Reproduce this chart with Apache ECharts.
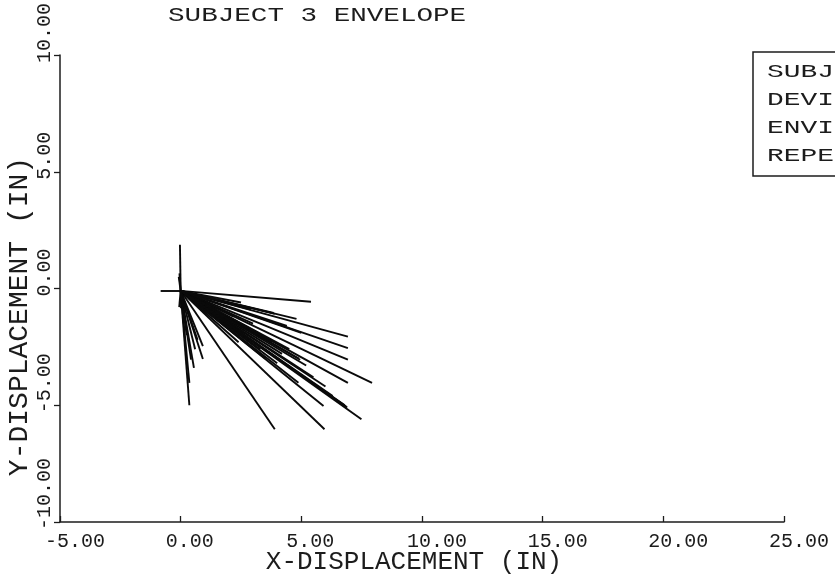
<!DOCTYPE html>
<html><head><meta charset="utf-8">
<script src="https://cdn.jsdelivr.net/npm/echarts@6/dist/echarts.min.js"></script>
<style>html,body{margin:0;padding:0;background:#fff}#c{width:835px;height:577px}</style>
</head><body><div id="c"></div>
<script>
// ---- data ----
const titleText = 'SUBJECT 3 ENVELOPE';
const xAxisName = 'X-DISPLACEMENT (IN)';
const yAxisName = 'Y-DISPLACEMENT (IN)';
const boxLines = ['SUBJECT 3', 'DEVICE', 'ENVIRONMENT', 'REPETITION'];
const xTicks = [-5, 0, 5, 10, 15, 20, 25];
const yTicks = [-10, -5, 0, 5, 10];
// every trace starts at this point
const originX = 0;
const originY = -0.1;
// end points of the envelope traces (inches)
const endX = [-0.03, -0.05, -0.08, 0.0, -0.06, -0.83,
  5.4, 3.9, 3.85, 6.93, 6.93, 6.93, 7.93, 6.93, 4.95, 4.9, 4.88,
  5.92, 6.9, 6.85, 7.49, 5.96, 3.9, 0.36, 0.43, 0.36, 0.92, 0.92, 0.7, 0.6,
  2.5, 3.0, 2.6, 2.2, 3.5, 1.6, 4.2, 1.2, 2.0, 1.0, 2.9, 3.3, 2.4,
  3.2, 3.8, 4.5, 4.0, 3.5, 5.5, 5.2, 6.0, 6.3, 4.4, 5.0, 6.8, 4.8, 0.55, 0.25];
const endY = [1.87, 0.65, 0.5, -0.85, -0.8, -0.1,
  -0.57, -1.09, -1.05, -2.06, -2.55, -3.05, -4.04, -4.04, -3.05, -3.0, -4.04,
  -5.03, -5.1, -5.05, -5.6, -6.03, -6.03, -5.0, -3.05, -4.04, -3.02, -2.47, -2.2, -2.6,
  -0.6, -1.5, -1.9, -1.2, -2.2, -1.4, -2.8, -1.0, -1.7, -0.4, -0.9, -2.6, -2.3,
  -1.9, -2.3, -2.6, -3.2, -3.0, -3.8, -3.3, -4.2, -4.6, -1.6, -1.9, -5.0, -1.3, -3.4, -2.0];

const FONT = "'Liberation Mono', monospace";
const INK = '#1c1c1c';

const traces = endX.map((x, i) => ({ coords: [[originX, originY], [x, endY[i]]] }));

const chart = echarts.init(document.getElementById('c'), null, { renderer: 'canvas' });
chart.setOption({
  backgroundColor: '#ffffff',
  animation: false,
  grid: { left: 60, right: 51, top: 55, bottom: 55, containLabel: false, outerBoundsMode: 'none' },
  xAxis: {
    type: 'value', min: -5, max: 25, interval: 5,
    name: xAxisName, nameLocation: 'middle', nameGap: 27, nameMoveOverlap: false,
    nameTextStyle: { fontFamily: FONT, fontSize: 26, color: INK, padding: [0, 16, 0, 0] },
    axisLine: { show: true, onZero: false, lineStyle: { color: INK, width: 1.5 } },
    axisTick: { show: true, inside: true, length: 6, lineStyle: { color: INK, width: 1.3 } },
    axisLabel: {
      fontFamily: FONT, fontSize: 20, color: INK, margin: 10,
      align: 'left', padding: [0, 0, 0, -15],
      formatter: v => v.toFixed(2)
    },
    splitLine: { show: false }
  },
  yAxis: {
    type: 'value', min: -10, max: 10, interval: 5,
    name: yAxisName, nameLocation: 'middle', nameGap: 26, nameRotate: 90, nameMoveOverlap: false,
    nameTextStyle: { fontFamily: FONT, fontSize: 28, color: INK, padding: [0, 56, 0, 0] },
    axisLine: { show: true, onZero: false, lineStyle: { color: INK, width: 1.5 } },
    axisTick: { show: true, inside: false, length: 6, lineStyle: { color: INK, width: 1.3 } },
    axisLabel: {
      fontFamily: FONT, fontSize: 20, color: INK, margin: 5, rotate: 90,
      align: 'left', verticalAlign: 'bottom', padding: [0, 0, 0, -8],
      formatter: v => v.toFixed(2)
    },
    splitLine: { show: false }
  },
  graphic: [
    { type: 'text', x: 168, y: 16, scaleX: 1.38,
      style: { text: titleText, font: '20px ' + FONT, fill: INK, verticalAlign: 'middle', align: 'left' } },
    { type: 'rect', shape: { x: 753, y: 52, width: 140, height: 124 },
      style: { fill: 'none', stroke: INK, lineWidth: 1.5 } },
    ...boxLines.map((t, i) => ({
      type: 'text', x: 767, y: 72 + i * 28, scaleX: 1.55,
      style: { text: t, font: '18px ' + FONT, fill: INK, verticalAlign: 'middle', align: 'left' }
    }))
  ],
  series: [{
    type: 'lines', coordinateSystem: 'cartesian2d', polyline: false,
    lineStyle: { color: '#0a0a0a', width: 1.9, opacity: 1, curveness: 0 },
    silent: true,
    data: traces
  }]
});
</script></body></html>
